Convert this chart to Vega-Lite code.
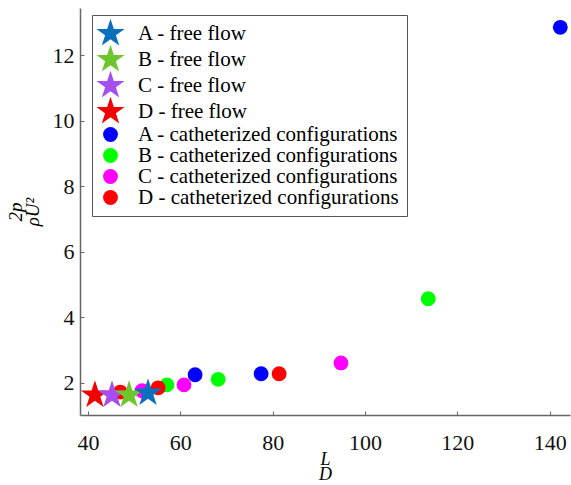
{
  "$schema": "https://vega.github.io/schema/vega-lite/v6.json",
  "width": 490,
  "height": 407,
  "autosize": {"type": "none"},
  "padding": {"left": 80, "top": 8, "right": 1, "bottom": 70},
  "background": "white",
  "config": {
    "view": {"stroke": null},
    "font": "Liberation Serif"
  },
  "data": {
    "values": [
      {"x": 142.3, "y": 12.86, "series": "A - catheterized configurations"},
      {"x": 113.7, "y": 4.57, "series": "B - catheterized configurations"},
      {"x": 94.8, "y": 2.61, "series": "C - catheterized configurations"},
      {"x": 77.5, "y": 2.28, "series": "A - catheterized configurations"},
      {"x": 81.4, "y": 2.28, "series": "D - catheterized configurations"},
      {"x": 68.2, "y": 2.11, "series": "B - catheterized configurations"},
      {"x": 63.2, "y": 2.25, "series": "A - catheterized configurations"},
      {"x": 60.8, "y": 1.94, "series": "C - catheterized configurations"},
      {"x": 57.1, "y": 1.94, "series": "B - catheterized configurations"},
      {"x": 55.2, "y": 1.85, "series": "D - catheterized configurations"},
      {"x": 51.7, "y": 1.76, "series": "C - catheterized configurations"},
      {"x": 47.0, "y": 1.72, "series": "D - catheterized configurations"},
      {"x": 41.5, "y": 1.63, "series": "D - free flow"},
      {"x": 45.2, "y": 1.63, "series": "C - free flow"},
      {"x": 48.9, "y": 1.63, "series": "B - free flow"},
      {"x": 53.0, "y": 1.69, "series": "A - free flow"}
    ]
  },
  "mark": {"type": "point", "filled": true, "opacity": 1, "strokeWidth": 0, "size": 220},
  "encoding": {
    "x": {
      "field": "x", "type": "quantitative",
      "scale": {"domain": [38.27, 144.4], "nice": false, "zero": false},
      "axis": {
        "values": [40, 60, 80, 100, 120, 140],
        "title": ["L", "D"],
        "titleFont": "Liberation Serif", "titleFontStyle": "italic", "titleFontWeight": "normal",
        "titleFontSize": 18, "titleLineHeight": 15, "titleColor": "black", "titlePadding": -3,
        "labelFont": "Liberation Serif", "labelFontSize": 22, "labelColor": "#111",
        "labelPadding": 21, "grid": false,
        "domainColor": "#666", "domainWidth": 1.5,
        "tickColor": "#666", "tickSize": -4, "tickWidth": 1
      }
    },
    "y": {
      "field": "y", "type": "quantitative",
      "scale": {"domain": [1.02, 13.45], "nice": false, "zero": false},
      "axis": {
        "values": [2, 4, 6, 8, 10, 12],
        "title": ["2p", "ρU²"],
        "titleFont": "Liberation Serif", "titleFontStyle": "italic", "titleFontWeight": "normal",
        "titleFontSize": 19, "titleLineHeight": 17, "titleColor": "black", "titlePadding": 10,
        "labelFont": "Liberation Serif", "labelFontSize": 22, "labelColor": "#111",
        "labelPadding": 10, "grid": false,
        "domainColor": "#666", "domainWidth": 1.5,
        "tickColor": "#666", "tickSize": -4, "tickWidth": 1
      }
    },
    "color": {
      "field": "series", "type": "nominal",
      "scale": {
        "domain": ["A - free flow", "B - free flow", "C - free flow", "D - free flow",
                   "A - catheterized configurations", "B - catheterized configurations",
                   "C - catheterized configurations", "D - catheterized configurations"],
        "range": ["#0a6fbd", "#6dc72c", "#a64ff0", "#f20000", "#0000ff", "#00ff00", "#ff00ff", "#ff0000"]
      },
      "legend": {
        "title": null, "orient": "none", "legendX": 12, "legendY": 7,
        "strokeColor": "#555", "padding": 8, "fillColor": "white",
        "labelFont": "Liberation Serif", "labelFontSize": 21, "labelColor": "black",
        "labelLimit": 0, "symbolSize": 220,
        "rowPadding": -2, "symbolOpacity": 1, "symbolStrokeWidth": 0, "labelOffset": 17
      }
    },
    "shape": {
      "field": "series", "type": "nominal",
      "scale": {
        "domain": ["A - free flow", "B - free flow", "C - free flow", "D - free flow",
                   "A - catheterized configurations", "B - catheterized configurations",
                   "C - catheterized configurations", "D - catheterized configurations"],
        "range": [
          "M0,-2L0.449,-0.618L1.902,-0.618L0.726,0.236L1.176,1.618L0,0.764L-1.176,1.618L-0.726,0.236L-1.902,-0.618L-0.449,-0.618Z",
          "M0,-2L0.449,-0.618L1.902,-0.618L0.726,0.236L1.176,1.618L0,0.764L-1.176,1.618L-0.726,0.236L-1.902,-0.618L-0.449,-0.618Z",
          "M0,-2L0.449,-0.618L1.902,-0.618L0.726,0.236L1.176,1.618L0,0.764L-1.176,1.618L-0.726,0.236L-1.902,-0.618L-0.449,-0.618Z",
          "M0,-2L0.449,-0.618L1.902,-0.618L0.726,0.236L1.176,1.618L0,0.764L-1.176,1.618L-0.726,0.236L-1.902,-0.618L-0.449,-0.618Z",
          "circle", "circle", "circle", "circle"]
      },
      "legend": {"title": null}
    }
  }
}
